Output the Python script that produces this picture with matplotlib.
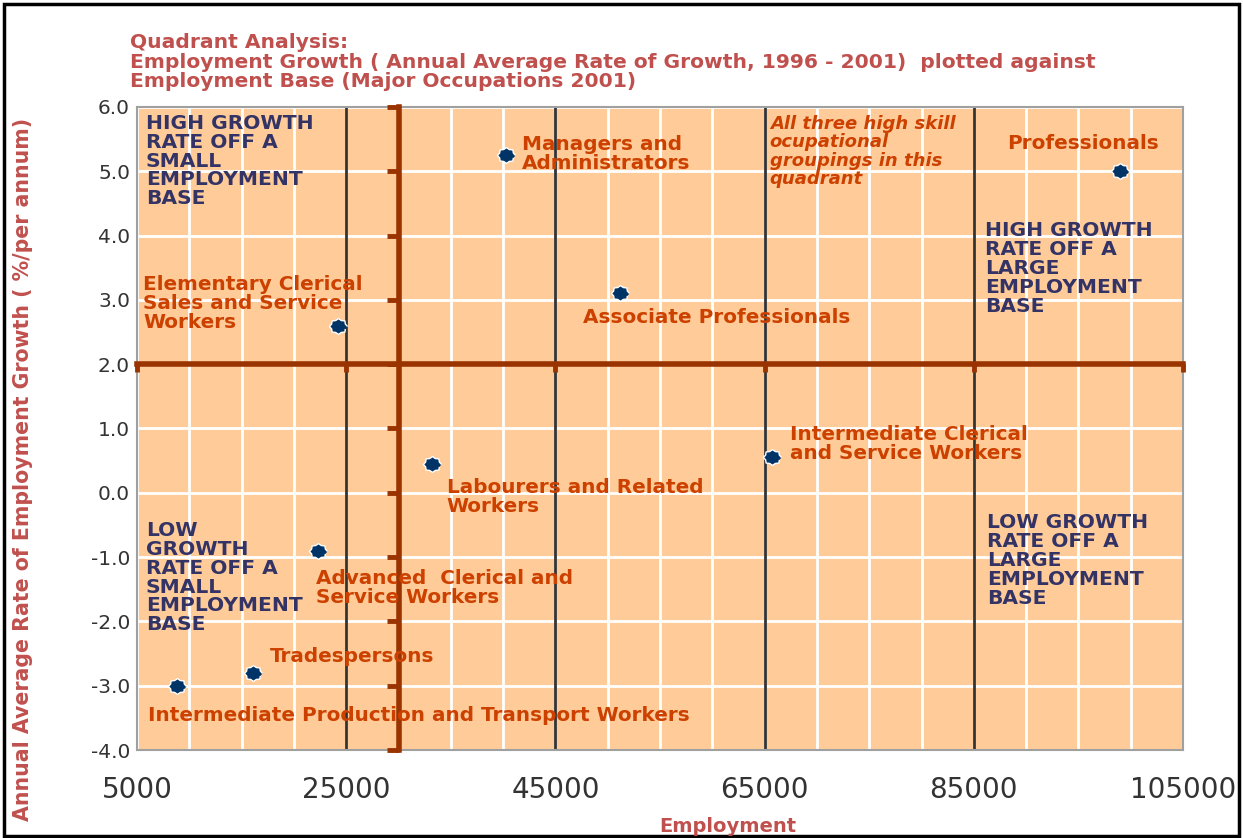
import numpy as np
import matplotlib
matplotlib.use("Agg")
import matplotlib.pyplot as plt
from matplotlib.patches import Rectangle

plt.rcParams['font.family'] = ['DejaVu Sans']
plt.rcParams['axes.unicode_minus'] = False

# occupation data: employment 2001 vs annual growth 1996-2001
occupations = ['Managers and\nAdministrators', 'Professionals', 'Associate Professionals',
               'Elementary Clerical\nSales and Service\nWorkers', 'Labourers and Related\nWorkers',
               'Intermediate Clerical\nand Service Workers', 'Advanced  Clerical and\nService Workers',
               'Tradespersons', 'Intermediate Production and Transport Workers']
employment = [40300, 99000, 51200, 24200, 33200, 65700, 22300, 16100, 8800]
growth = [5.25, 5.0, 3.1, 2.6, 0.45, 0.55, -0.9, -2.8, -3.0]

# label anchor positions (axes fraction, left / centre)
label_pos = [(0.368, 0.927), (0.832, 0.944), (0.426, 0.673), (0.006, 0.695),
             (0.296, 0.393), (0.624, 0.476), (0.171, 0.252), (0.127, 0.145),
             (0.0105, 0.053)]

quadrants = ['HIGH GROWTH\nRATE OFF A\nSMALL\nEMPLOYMENT\nBASE',
             'HIGH GROWTH\nRATE OFF A\nLARGE\nEMPLOYMENT\nBASE',
             'LOW\nGROWTH\nRATE OFF A\nSMALL\nEMPLOYMENT\nBASE',
             'LOW GROWTH\nRATE OFF A\nLARGE\nEMPLOYMENT\nBASE']
quad_pos = [(0.0086, 0.916), (0.811, 0.749), (0.0086, 0.268), (0.813, 0.295)]

note = 'All three high skill\nocupational\ngroupings in this\nquadrant'

x_ticks = [5000, 25000, 45000, 65000, 85000, 105000]
y_ticks = [-4.0, -3.0, -2.0, -1.0, 0.0, 1.0, 2.0, 3.0, 4.0, 5.0, 6.0]
x_cross = 30000
y_cross = 2.0

peach = '#FFCC99'
brown = '#993300'
label_col = '#CC4000'
navy_txt = '#333366'
title_col = '#C0504D'

fig = plt.figure(figsize=(12.43, 8.38), dpi=100)
ax = fig.add_axes([137/1243, 1-750/838, 1046/1243, 643/838])
ax.set_facecolor(peach)
ax.set_xlim(5000, 105000)
ax.set_ylim(-4, 6)

# white grid
for xv in np.arange(5000, 105001, 5000):
    ax.axvline(xv, color='white', lw=2, zorder=1)
for yv in y_ticks:
    ax.axhline(yv, color='white', lw=2, zorder=1)
# dark major verticals
for xv in x_ticks[1:-1]:
    ax.axvline(xv, color='#333333', lw=2, zorder=2)

# brown cross axes
ax.axvline(x_cross, color=brown, lw=4, zorder=3, clip_on=False)
ax.axhline(y_cross, color=brown, lw=4, zorder=3, clip_on=False)
ax.plot([x_cross]*len(y_ticks), y_ticks, ls='none', marker=0, ms=9, mew=3.5,
        color=brown, zorder=3, clip_on=False)
ax.plot(x_ticks, [y_cross]*len(x_ticks), ls='none', marker=3, ms=6, mew=3.5,
        color=brown, zorder=3, clip_on=False)

# scalloped marker
ang = np.linspace(0, 2*np.pi, 17)[:-1]
rad = np.where(np.arange(16) % 2 == 0, 1.0, 0.82)
verts = np.column_stack([rad*np.cos(ang)*1.15, rad*np.sin(ang)])
ax.plot(employment, growth, ls='none', marker=verts, ms=13, mfc='#003366',
        mec='white', mew=1, zorder=5)

for txt, (fx, fy) in zip(occupations, label_pos):
    ax.text(fx, fy, txt, transform=ax.transAxes, ha='left', va='center',
            color=label_col, fontsize=14.4, fontweight='bold', linespacing=1.0, zorder=6)
for txt, (fx, fy) in zip(quadrants, quad_pos):
    ax.text(fx, fy, txt, transform=ax.transAxes, ha='left', va='center',
            color=navy_txt, fontsize=14.6, fontweight='bold', linespacing=0.99, zorder=6)
ax.text(0.605, 0.931, note, transform=ax.transAxes, ha='left', va='center',
        color=label_col, fontsize=13, fontweight='bold', style='italic',
        linespacing=1.02, zorder=6)

ax.set_xticks(x_ticks)
ax.set_xticklabels([str(v) for v in x_ticks], fontsize=20, color='#333333')
ax.set_yticks(y_ticks)
ax.set_yticklabels(['%.1f' % v for v in y_ticks], fontsize=14.5, color='#333333')
ax.tick_params(axis='x', length=0, pad=19)
ax.tick_params(axis='y', length=0, pad=5)
for s in ax.spines.values():
    s.set_color('#a0a0a0')
    s.set_linewidth(1.5)

fig.text(130/1243, 1-62/838,
         'Quadrant Analysis:\nEmployment Growth ( Annual Average Rate of Growth, 1996 - 2001)  plotted against\nEmployment Base (Major Occupations 2001)',
         ha='left', va='center', color=title_col, fontsize=14.6, fontweight='bold',
         linespacing=1.05)
fig.text(23/1243, 1-469/838, 'Annual Average Rate of Employment Growth ( %/per annum)',
         rotation=90, ha='center', va='center', color=title_col, fontsize=14.8,
         fontweight='bold')
fig.text(728/1243, 1-826/838, 'Employment', ha='center', va='center',
         color=title_col, fontsize=14, fontweight='bold')

# outer frame
fig.patches.append(Rectangle((4/1243, 2/838), 1235/1243, 832/838, transform=fig.transFigure,
                             fill=False, ec='black', lw=2.5))

fig.savefig('out.png', dpi=100)
